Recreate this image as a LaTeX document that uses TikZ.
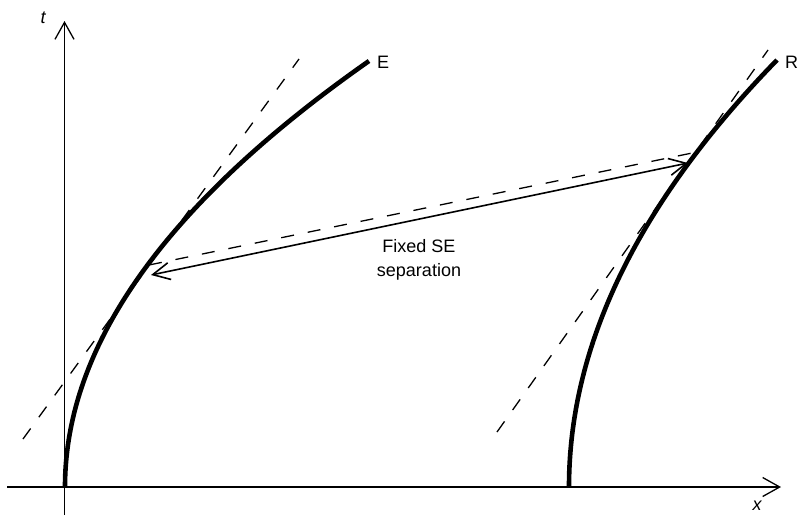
\documentclass[tikz,border=0pt]{standalone}
\usepackage{fontspec}
\setmainfont{Liberation Sans}
\usetikzlibrary{arrows.meta}
\begin{document}
\begin{tikzpicture}[x=1pt,y=-1pt,
  axis/.style={line width=1.3pt,-{Straight Barb[length=17pt,width=19pt,line width=1.3pt]}},
  worldline/.style={line width=4.6pt},
  tangent/.style={line width=1.3pt,dash pattern=on 13pt off 14pt},
  seplink/.style={line width=1.6pt,{Straight Barb[length=17pt,width=17pt,line width=1.6pt]}-{Straight Barb[length=17pt,width=17pt,line width=1.6pt]}},
  lbl/.style={inner sep=0pt,font=\fontsize{18}{24}\selectfont}]
\useasboundingbox (0,0) rectangle (801,515);
% axes
\coordinate (ybot) at (64.5,515);
\coordinate (ytop) at (64.5,21);
\coordinate (xleft) at (7,487);
\coordinate (xright) at (781,487);
\draw[axis] (ybot) -- (ytop);
\draw[axis] (xleft) -- (xright);
\node[lbl] (tlab) at (43,18) {\itshape t};
\node[lbl] (xlab) at (757,506) {\itshape x};
% world lines
\coordinate (E0) at (65,487);
\coordinate (E1) at (369,61);
\coordinate (R0) at (569,487);
\coordinate (R1) at (777,60);
\draw[worldline] (E0) .. controls (65,345) and (166.3,203) .. (E1);
\draw[worldline] (R0) .. controls (569,344.7) and (638.3,202.3) .. (R1);
\node[lbl,anchor=west] (Elab) at (377,62) {E};
\node[lbl,anchor=west] (Rlab) at (785,62) {R};
% tangents
\coordinate (tEa) at (23,439);
\coordinate (tEb) at (299,59);
\coordinate (tRa) at (497,432);
\coordinate (tRb) at (768,50);
\draw[tangent] (tEa) -- (tEb);
\draw[tangent] (tRa) -- (tRb);
% separation
\coordinate (sE) at (151,275);
\coordinate (sR) at (688,163);
\draw[seplink] (sE) -- (sR);
\coordinate (dE) at (149,265);
\coordinate (dR) at (697,152);
\draw[tangent] (dE) -- (dR);
\node[lbl,align=center] (seplab) at (419,260) {Fixed SE\\separation};
\end{tikzpicture}
\end{document}
